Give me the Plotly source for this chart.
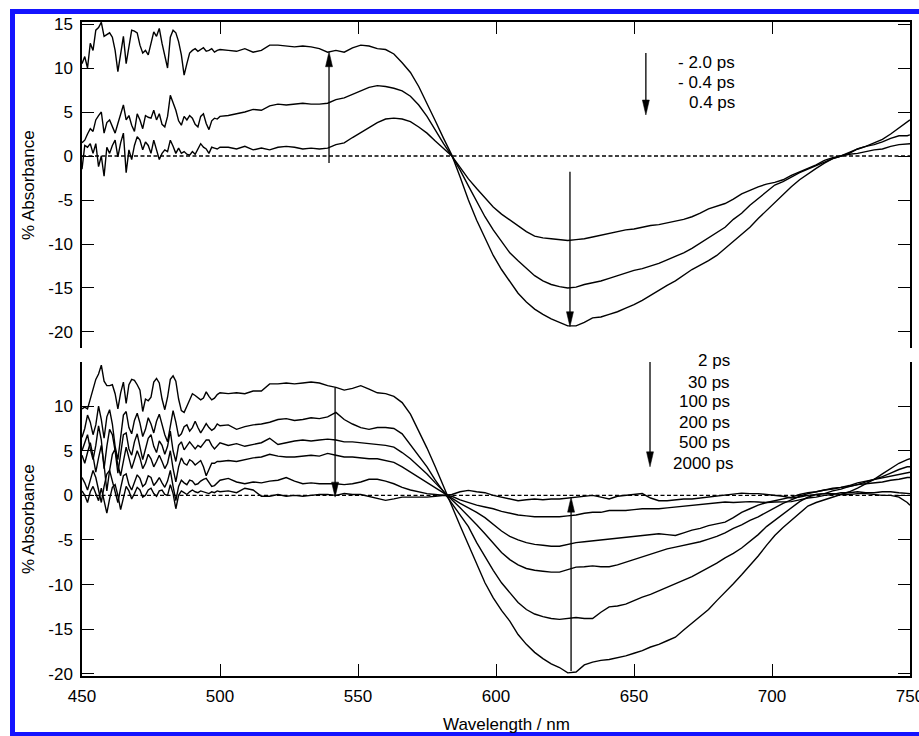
import plotly.graph_objects as go

# ---------------- data ----------------
WL = list(range(450, 501)) + list(range(503, 750, 3)) + [750]

# top panel: early delays
top_m2p0 = [
    -1.5, 1.2, 1.0, 1.4, 0.3, 1.4, -1.2, 0.0, -2.3, 1.0,
    0.3, 1.2, 1.8, -0.1, 1.5, 2.6, -1.9, 0.7, -0.4, 1.2,
    2.2, 1.8, 0.7, 1.6, 1.2, 0.3, 1.8, 0.7, -0.4, 0.3,
    0.7, 0.5, 1.8, 1.1, 0.3, 0.9, 0.3, 0.5, 0.2, 0.1,
    0.5, 0.2, 0.8, 1.4, 1.0, 0.8, 0.3, 1.0, 0.9, 0.8,
    1.0,
    1.0, 0.8, 1.1, 0.7, 0.9, 0.7, 1.0, 1.1, 1.0, 0.8,
    0.9, 0.8, 0.9, 1.3, 1.5, 2.1, 2.7, 3.3, 3.8, 4.2,
    4.3, 4.2, 3.9, 3.3, 2.6, 1.7, 0.9, 0.0, -1.3, -2.6,
    -3.7, -4.8, -5.8, -6.6, -7.3, -8.0, -8.6, -9.1, -9.3, -9.4,
    -9.5, -9.6, -9.5, -9.4, -9.2, -9.0, -8.8, -8.6, -8.4, -8.3,
    -8.1, -7.9, -7.8, -7.6, -7.4, -7.2, -6.9, -6.5, -6.0, -5.7,
    -5.4, -4.9, -4.3, -3.9, -3.5, -3.2, -3.0, -2.7, -2.2, -1.8,
    -1.4, -1.0, -0.5, -0.2, 0.0, 0.2, 0.3, 0.5, 0.7, 0.8,
    1.1, 1.3, 1.4, 1.4,
]
top_m0p4 = [
    1.5, 1.8, 2.5, 3.1, 2.8, 4.1, 4.6, 5.0, 2.6, 3.8,
    4.1, 3.3, 2.6, 3.7, 4.8, 5.8, 4.1, 4.6, 3.5, 2.8,
    4.8, 4.1, 3.1, 4.6, 4.4, 4.3, 5.2, 4.1, 4.8, 3.6,
    3.3, 4.5, 6.9, 6.0, 5.2, 4.0, 3.5, 4.5, 4.1, 4.6,
    4.3, 3.6, 3.3, 4.5, 4.8, 3.7, 3.0, 4.0, 4.3, 4.2,
    4.5,
    4.6, 4.8, 5.0, 5.3, 5.2, 5.7, 5.9, 5.8, 5.9, 6.0,
    5.9, 5.9, 6.0, 6.4, 6.6, 7.0, 7.4, 7.8, 8.0, 7.9,
    7.7, 7.4, 6.8, 5.8, 4.5, 2.9, 1.4, 0.0, -1.6, -3.4,
    -5.2, -6.9, -8.4, -9.7, -11.0, -11.9, -12.8, -13.6, -14.2, -14.6,
    -14.85, -15.0, -14.9, -14.6, -14.4, -14.2, -13.9, -13.6, -13.3, -13.0,
    -12.8, -12.5, -12.2, -11.8, -11.4, -11.0, -10.5, -9.9, -9.3, -8.7,
    -8.1, -7.2, -6.5, -5.6, -4.8, -4.0, -3.3, -2.9, -2.4, -1.9,
    -1.5, -1.1, -0.7, -0.3, 0.0, 0.3, 0.8, 1.1, 1.3, 1.6,
    2.0, 2.3, 2.3, 2.4,
]
top_p0p4 = [
    10.5, 11.3, 10.0, 12.8, 12.0, 14.3, 14.6, 15.2, 13.6, 13.8,
    14.0, 13.5, 12.0, 9.6, 11.5, 13.6, 10.5, 12.5, 14.3, 14.2,
    14.0, 12.6, 11.7, 12.0, 11.5, 12.8, 14.1, 13.6, 14.5, 12.8,
    11.2, 10.0, 13.5, 14.3, 14.0, 13.0, 11.5, 9.2, 10.5, 11.7,
    12.0, 12.2, 11.9, 12.1, 12.3, 11.9, 12.0, 12.2, 11.8, 12.0,
    12.1,
    12.0, 11.9, 12.2, 11.8, 12.0, 12.6, 12.6, 12.5, 12.4, 12.5,
    12.4, 12.2, 11.8, 12.0, 11.8, 12.3, 12.6, 12.5, 12.2, 12.1,
    11.6, 10.6, 9.5, 7.9, 6.0, 4.0, 2.0, 0.1, -2.4, -5.0,
    -7.3, -9.4, -11.3, -12.9, -14.3, -15.6, -16.6, -17.4, -18.0, -18.5,
    -18.9, -19.3, -19.3, -18.9, -18.4, -18.3, -18.0, -17.7, -17.3, -16.9,
    -16.4, -15.8, -15.3, -14.7, -14.2, -13.5, -12.9, -12.4, -11.9, -11.3,
    -10.5, -9.8, -9.0, -8.1, -7.1, -6.2, -5.2, -4.3, -3.5, -2.7,
    -2.0, -1.4, -0.8, -0.3, 0.0, 0.4, 0.8, 1.1, 1.5, 1.9,
    2.5, 3.2, 3.9, 4.1,
]

# bottom panel: later delays
bot_2 = [
    9.7, 9.9, 9.7, 10.8, 11.8, 13.0, 13.6, 14.6, 12.8, 12.3,
    12.3, 12.4, 11.4, 9.7, 11.5, 12.7, 10.3, 12.4, 13.0, 12.9,
    12.4, 11.8, 9.4, 10.8, 10.6, 11.0, 12.7, 13.1, 12.6, 10.8,
    9.6, 11.0, 13.0, 13.4, 12.8, 10.8, 9.5, 9.3, 10.0, 10.8,
    11.4, 11.2, 10.9, 10.7, 10.9, 11.6, 11.1, 10.7, 10.9, 11.3,
    11.5,
    11.4, 11.5, 11.4, 11.7, 11.7, 12.5, 12.5, 12.6, 12.5, 12.6,
    12.7, 12.6, 12.3, 12.1, 11.8, 12.0, 12.3, 11.9, 11.5, 11.4,
    11.1, 10.4, 9.1, 7.2, 5.3, 3.2, 0.9, -1.2, -3.4, -5.6,
    -7.8, -9.8, -11.5, -12.9, -14.1, -15.6, -16.7, -17.6, -18.3, -18.9,
    -19.3, -19.9, -19.8, -19.0, -18.7, -18.5, -18.4, -18.2, -18.0, -17.7,
    -17.4, -17.0, -16.7, -16.3, -15.9, -15.1, -14.3, -13.5, -12.8, -11.8,
    -10.9, -9.9, -8.9, -7.9, -6.8, -5.6, -4.5, -3.6, -2.8, -2.0,
    -1.2, -0.8, -0.5, -0.2, 0.1, 0.4, 0.8, 1.3, 1.8, 2.4,
    3.0, 3.6, 4.0, 4.1,
]
bot_30 = [
    6.5, 7.5, 9.0, 8.2, 6.8, 7.9, 10.0, 8.5, 6.4, 8.8,
    9.6, 8.0, 5.5, 4.0, 6.5, 9.0, 9.4, 7.6, 6.9, 8.4,
    9.2, 8.1, 6.6, 7.4, 8.7, 8.0, 7.0, 8.3, 9.1, 7.9,
    6.8, 6.0, 8.0, 9.5, 8.2, 6.6, 6.9, 7.7, 7.9, 7.2,
    7.6, 8.3, 7.6, 7.0, 7.5, 8.05, 7.6, 7.3, 7.5, 8.0,
    7.8,
    7.9, 7.4, 7.7, 7.9, 8.0, 8.2, 8.5, 8.6, 8.4, 8.5,
    8.7, 8.6, 8.8, 9.3, 8.5, 8.0, 7.6, 7.4, 7.6, 7.6,
    7.5, 6.9, 5.7, 4.5, 3.2, 1.7, 0.4, -0.8, -2.1, -3.5,
    -5.3, -6.9, -8.4, -9.8, -10.9, -12.0, -12.8, -13.3, -13.6, -13.8,
    -13.9, -13.8, -13.7, -13.8, -13.8, -13.1, -12.5, -12.4, -12.2, -11.8,
    -11.4, -11.1, -10.7, -10.3, -9.9, -9.5, -9.1, -8.6, -8.1, -7.6,
    -7.0, -6.5, -5.9, -5.2, -4.4, -3.5, -2.8, -2.0, -1.3, -0.7,
    -0.2, 0.1, 0.2, 0.5, 0.7, 1.0, 1.2, 1.5, 1.8, 2.1,
    2.5, 2.9, 3.2, 3.2,
]
bot_100 = [
    5.0, 6.0, 6.8, 5.2, 4.0, 5.6, 7.8, 6.2, 3.0, 5.5,
    7.4, 6.8, 5.0, 2.5, 4.5, 6.8, 7.0, 5.2, 4.5, 6.0,
    6.9, 5.4, 4.0, 5.2, 6.4, 6.8, 5.5, 4.8, 6.1, 5.6,
    4.6, 5.5, 7.2, 5.0, 3.8, 5.6, 6.0, 5.1, 5.5, 6.0,
    5.6, 5.2, 5.6, 5.4, 5.8, 6.2, 6.2, 5.6, 5.2, 5.5,
    5.9,
    5.6, 5.8, 5.5, 5.7, 5.9, 6.4, 5.7, 5.9, 6.1, 6.2,
    6.1, 6.2, 6.3, 6.2, 6.0, 6.0, 5.9, 5.8, 5.7, 5.6,
    5.4, 4.8, 4.1, 3.3, 2.4, 1.4, 0.4, -0.5, -1.4, -2.3,
    -3.3, -4.3, -5.4, -6.4, -7.2, -7.8, -8.2, -8.4, -8.5, -8.6,
    -8.6, -8.3, -8.05, -8.0, -7.9, -8.0, -8.0, -7.8, -7.5, -7.2,
    -6.9, -6.6, -6.3, -6.0, -5.8, -5.6, -5.4, -5.2, -4.9, -4.6,
    -4.2, -3.7, -3.3, -2.8, -2.4, -1.9, -1.4, -0.9, -0.5, -0.1,
    0.2, 0.4, 0.6, 0.8, 0.9, 1.1, 1.4, 1.6, 1.8, 2.0,
    2.2, 2.4, 2.6, 2.6,
]
bot_200 = [
    4.5, 3.6, 4.8, 5.9, 4.4, 2.6, 4.2, 5.6, 3.4, 0.5,
    2.8, 4.6, 5.2, 3.4, 2.2, 4.0, 5.4, 4.2, 3.0, 4.0,
    5.0, 4.2, 3.0, 3.6, 4.6, 4.1, 3.2, 3.8, 4.5, 3.8,
    3.0, 3.6, 5.0, 3.0, 1.5, 3.2, 4.2, 3.6, 3.4, 4.0,
    3.8, 3.4, 3.7, 3.9, 3.2, 2.2, 2.9, 3.6, 3.6, 3.8,
    3.8,
    3.9, 3.8, 4.0, 4.2, 4.3, 4.6, 4.4, 4.3, 4.3, 4.4,
    4.5, 4.4, 4.7, 4.5, 4.3, 4.3, 4.2, 4.1, 4.1, 3.9,
    3.7, 3.2, 2.6, 2.0, 1.4, 0.8, 0.3, -0.3, -0.9, -1.4,
    -1.9, -2.5, -3.3, -4.0, -4.6, -5.0, -5.3, -5.5, -5.6, -5.7,
    -5.7, -5.5, -5.3, -5.2, -5.1, -5.0, -4.9, -4.8, -4.7, -4.6,
    -4.5, -4.4, -4.3, -4.4, -4.5, -4.2, -3.9, -3.7, -3.4, -3.2,
    -3.0, -2.5, -1.9, -1.5, -1.1, -0.8, -0.6, -0.4, -0.2, 0.1,
    0.3, 0.4, 0.6, 0.7, 0.9, 1.0, 1.2, 1.3, 1.4, 1.5,
    1.7, 1.8, 2.0, 2.0,
]
bot_500 = [
    2.0, 1.4, 0.6, 1.8, 2.8, 2.0, 0.4, -0.8, 1.0, 2.4,
    2.8, 1.6, 0.2, -0.8, 0.8, 2.2, 2.4, 1.2, 0.6, 1.5,
    2.3, 1.9, 1.0, 1.3, 2.2, 2.0, 1.1, 1.5, 2.0, 1.4,
    0.9, 1.6, 2.8, 1.0, -0.6, 1.0, 1.7, 1.4, 1.2, 1.7,
    1.6, 1.2, 1.3, 1.6, 1.8, 1.9, 1.5, 1.0, 1.1, 1.4,
    1.7,
    1.9, 1.5, 1.3, 1.5, 1.4, 1.6, 1.7, 2.0, 1.6, 1.3,
    1.4, 1.3, 1.3, 1.3, 1.2, 1.3, 1.5, 1.8, 1.8, 1.6,
    1.3, 0.9, 0.6, 0.4, 0.2, 0.1, 0.0, -0.1, -0.5, -0.8,
    -1.1, -1.3, -1.5, -1.8, -2.0, -2.2, -2.3, -2.4, -2.4, -2.4,
    -2.4, -2.3, -2.2, -2.0, -1.9, -1.9, -1.7, -1.7, -1.7, -1.6,
    -1.5, -1.5, -1.5, -1.4, -1.3, -1.2, -1.1, -1.0, -0.9, -0.85,
    -0.75, -0.8, -0.75, -0.7, -0.75, -0.8, -0.75, -0.7, -0.7, -0.5,
    -0.3, -0.2, 0.0, 0.1, 0.3, 0.3, 0.4, 0.3, 0.3, 0.4,
    0.4, 0.3, 0.2, 0.2,
]
bot_2000 = [
    0.5, 0.0, -0.8, 0.4, 1.0, 0.3, -0.6, 0.8, -0.5, -2.0,
    -0.4, 0.9, 1.2, 0.0, -1.6, -0.2, 1.0, 0.5, -0.4, 0.2,
    0.9, 0.6, -0.2, 0.0, 0.6, 0.8, 0.2, -0.1, 0.5, 0.6,
    0.1, 0.0, 1.2, 0.2, -1.5, 0.0, 0.5, 0.3, 0.1, 0.4,
    0.6, 0.4, 0.3, 0.5, 0.4, 0.3, 0.2, 0.4, 0.3, 0.5,
    0.4,
    0.5, 0.3, 0.8, 0.6, -0.1, -0.1, 0.1, -0.1, 0.0, -0.1,
    0.0, 0.1, 0.1, 0.0, 0.2, 0.1, 0.1, -0.1, -0.3, -0.56,
    -0.4, -0.2, -0.2, -0.2, -0.2, -0.1, 0.0, 0.1, 0.4, 0.56,
    0.4, 0.3, 0.0, -0.2, -0.4, -0.6, -0.5, -0.4, -0.5, -0.4,
    -0.4, -0.3, -0.2, -0.1, 0.0, -0.2, -0.4, -0.1, 0.0, 0.1,
    0.2, -0.3, -0.6, -0.6, -0.5, -0.4, -0.4, -0.3, -0.2, -0.1,
    0.0, 0.1, 0.25, 0.2, 0.2, 0.1, 0.0, -0.1, -0.3, -0.2,
    0.0, 0.1, 0.2, 0.2, 0.1, 0.1, 0.2, 0.2, 0.1, 0.0,
    0.0, -0.2, -0.8, -1.1,
]

TOP_SERIES = [top_m2p0, top_m0p4, top_p0p4]
BOT_SERIES = [bot_2, bot_30, bot_100, bot_200, bot_500, bot_2000]

TOP_LABELS = ["- 2.0 ps", "- 0.4 ps", "0.4 ps"]
TOP_LABEL_Y = [10.6, 8.3, 6.06]
TOP_LABEL_X = [687.2, 687.2, 687.2]
BOT_LABELS = ["2 ps", "30 ps", "100 ps", "200 ps", "500 ps", "2000 ps"]
BOT_LABEL_Y = [15.1, 12.7, 10.5, 8.2, 5.9, 3.6]
BOT_LABEL_X = [685.6, 685.6, 685.6, 685.6, 685.6, 687.0]

# arrows: (wavelength, start value, tip value)
TOP_ARROWS = [(539.5, -0.8, 11.85), (626.8, -1.8, -19.4), (654.3, 11.7, 4.66)]
BOT_ARROWS = [(541.7, 12.1, -0.2), (627.2, -19.7, -0.2), (655.8, 16.3, 3.2)]

X_TICKS = [450, 500, 550, 600, 650, 700, 750]
Y_TICKS = [-20, -15, -10, -5, 0, 5, 10, 15]

for s in TOP_SERIES + BOT_SERIES:
    assert len(s) == len(WL), (len(s), len(WL))

# ---------------- layout geometry ----------------
W, H = 919, 736
ML, MR, MT, MB = 82, 9, 22, 60
PW, PH = W - ML - MR, H - MT - MB
TOP_DOM = [(H - MB - 348) / PH, 1.0]
BOT_DOM = [0.0, (H - MB - 362) / PH]
X_RANGE = [450, 750]
TOP_RANGE = [-21.82, 15.23]
BOT_RANGE = [-20.25, 14.95]

FONT = "Liberation Sans, Arial, Helvetica, sans-serif"
FS = 17

fig = go.Figure()
for s in TOP_SERIES:
    fig.add_trace(go.Scatter(x=WL, y=s, mode="lines", xaxis="x", yaxis="y",
                             line=dict(color="black", width=1.4), hoverinfo="skip"))
for s in BOT_SERIES:
    fig.add_trace(go.Scatter(x=WL, y=s, mode="lines", xaxis="x2", yaxis="y2",
                             line=dict(color="black", width=1.4), hoverinfo="skip"))

axis_common = dict(showgrid=False, zeroline=False, showline=True, linecolor="black",
                   linewidth=1.5, ticks="inside", ticklen=12, tickwidth=1.3,
                   tickcolor="black", automargin=False,
                   tickfont=dict(family=FONT, size=FS, color="black"))

fig.update_layout(
    width=W, height=H, autosize=False,
    margin=dict(l=ML, r=MR, t=MT, b=MB),
    paper_bgcolor="white", plot_bgcolor="white",
    showlegend=False,
    font=dict(family=FONT, size=FS, color="black"),
    xaxis=dict(range=X_RANGE, anchor="y", side="top", showticklabels=False,
               tickvals=X_TICKS, **axis_common),
    yaxis=dict(domain=TOP_DOM, range=TOP_RANGE, anchor="x", mirror="ticks",
               tickvals=Y_TICKS, ticktext=[str(v) for v in Y_TICKS],
               ticklabelstandoff=4, **axis_common),
    xaxis2=dict(range=X_RANGE, anchor="y2", side="bottom",
                tickvals=X_TICKS, ticktext=[str(v) for v in X_TICKS],
                ticklabelstandoff=4, ticklabeloverflow="allow", **axis_common),
    yaxis2=dict(domain=BOT_DOM, range=BOT_RANGE, anchor="x2", mirror="ticks",
                tickvals=Y_TICKS, ticktext=[str(v) for v in Y_TICKS],
                ticklabelstandoff=4, **axis_common),
)

def px2paper_x(px):
    return (px - ML) / PW
def px2paper_y(py):
    return (H - MB - py) / PH
def data2paper(x, y, rng, dom):
    px_ = (x - X_RANGE[0]) / (X_RANGE[1] - X_RANGE[0])
    py_ = dom[0] + (y - rng[0]) / (rng[1] - rng[0]) * (dom[1] - dom[0])
    return px_, py_

shapes = []
# dotted zero lines
for xr, yr in (("x domain", "y"), ("x2 domain", "y2")):
    shapes.append(dict(type="line", xref=xr, yref=yr, x0=0, x1=1, y0=0, y1=0,
                       line=dict(color="black", width=1.3, dash="4px,2.5px"), layer="below"))

# arrows
X_PPU = PW / (X_RANGE[1] - X_RANGE[0])
def add_arrows(arrows, xr, yr, rng, dom):
    y_ppu = PH * (dom[1] - dom[0]) / (rng[1] - rng[0])
    head_len = 15 / y_ppu
    half_w = 3.5 / X_PPU
    for (x, y0, y1) in arrows:
        sgn = 1 if y1 > y0 else -1
        base = y1 - sgn * head_len
        shapes.append(dict(type="line", xref=xr, yref=yr, x0=x, x1=x, y0=y0,
                           y1=base + sgn * 0.3, line=dict(color="black", width=1.3),
                           layer="above"))
        path = f"M {x - half_w},{base} L {x + half_w},{base} L {x},{y1} Z"
        shapes.append(dict(type="path", xref=xr, yref=yr, path=path,
                           fillcolor="black", line=dict(color="black", width=0.5),
                           layer="above"))

add_arrows(TOP_ARROWS, "x", "y", TOP_RANGE, TOP_DOM)
add_arrows(BOT_ARROWS, "x2", "y2", BOT_RANGE, BOT_DOM)

# blue frame around the figure
shapes.append(dict(type="rect", xref="paper", yref="paper",
                   x0=px2paper_x(12.5), x1=px2paper_x(925),
                   y0=px2paper_y(734.5), y1=px2paper_y(11.5),
                   line=dict(color="rgb(20,20,255)", width=5),
                   fillcolor="rgba(0,0,0,0)", layer="above"))
fig.update_layout(shapes=shapes)

ann = []
def add_labels(labels, xs, ys, rng, dom):
    for t, x, y in zip(labels, xs, ys):
        px_, py_ = data2paper(x, y, rng, dom)
        ann.append(dict(x=px_, y=py_, xref="paper", yref="paper", text=t, showarrow=False,
                        xanchor="right", yanchor="middle", font=dict(family=FONT, size=FS)))
add_labels(TOP_LABELS, TOP_LABEL_X, TOP_LABEL_Y, TOP_RANGE, TOP_DOM)
add_labels(BOT_LABELS, BOT_LABEL_X, BOT_LABEL_Y, BOT_RANGE, BOT_DOM)

# axis titles
for dom in (TOP_DOM, BOT_DOM):
    ann.append(dict(x=px2paper_x(28), y=(dom[0] + dom[1]) / 2, xref="paper", yref="paper",
                    text="% Absorbance", textangle=-90, showarrow=False,
                    xanchor="center", yanchor="middle", font=dict(family=FONT, size=FS)))
ann.append(dict(x=px2paper_x(506), y=px2paper_y(724), xref="paper", yref="paper",
                text="Wavelength / nm", showarrow=False, xanchor="center", yanchor="middle",
                font=dict(family=FONT, size=FS)))
fig.update_layout(annotations=ann)

fig.write_html("out.html")
